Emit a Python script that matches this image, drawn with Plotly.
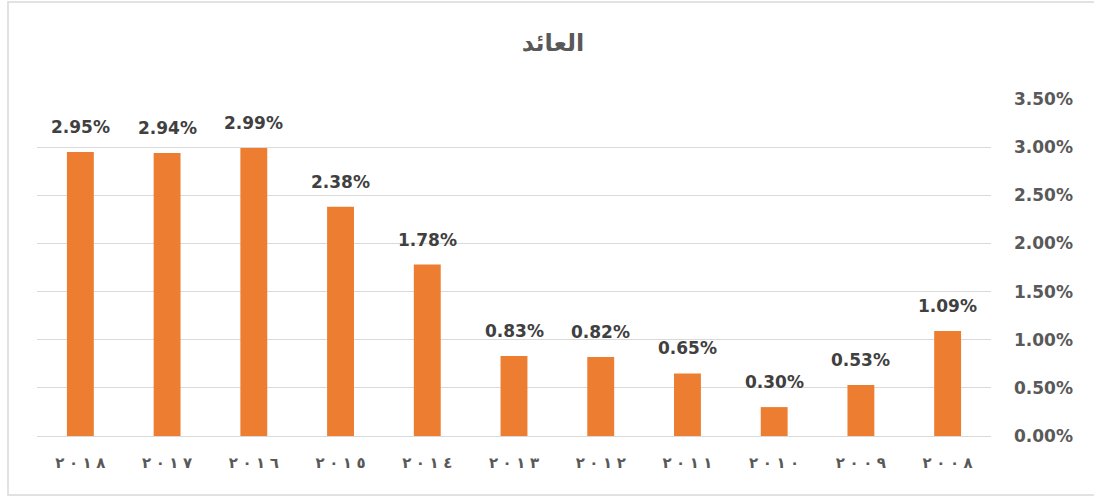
import plotly.graph_objects as go

years = ["2018", "2017", "2016", "2015", "2014", "2013", "2012", "2011", "2010", "2009", "2008"]
year_labels = ["٢٠١٨", "٢٠١٧", "٢٠١٦", "٢٠١٥", "٢٠١٤", "٢٠١٣", "٢٠١٢", "٢٠١١", "٢٠١٠", "٢٠٠٩", "٢٠٠٨"]
returns = [0.0295, 0.0294, 0.0299, 0.0238, 0.0178, 0.0083, 0.0082, 0.0065, 0.0030, 0.0053, 0.0109]
y_ticks = [0, 0.005, 0.01, 0.015, 0.02, 0.025, 0.03, 0.035]
title_text = "العائد"

# spaced-out display of the Arabic-Indic year labels (LRM keeps digit order)
sep = "\u200e\u2009\u200a\u200e"
tick_text = ["<b>\u200e" + sep.join(list(s)) + "</b>" for s in year_labels]

fig = go.Figure()
fig.add_trace(go.Bar(x=year_labels, y=returns, marker=dict(color="#ED7D31", line=dict(width=0)),
                     hoverinfo="skip"))

for lab, v in zip(year_labels, returns):
    fig.add_annotation(x=lab, y=v, text=f"<b>{v*100:.2f}%</b>", showarrow=False,
                       yanchor="bottom", yshift=13,
                       font=dict(family="DejaVu Sans", size=17, color="#404040"))

fig.update_layout(
    width=1094, height=498,
    margin=dict(l=37, r=103, t=99, b=62),
    paper_bgcolor="white", plot_bgcolor="white",
    bargap=0.69,
    showlegend=False,
    title=dict(text="<b>" + title_text + "</b>", xref="container", x=553 / 1094, xanchor="center",
               y=1 - 43 / 498, yanchor="middle",
               font=dict(family="DejaVu Sans", size=24, color="#595959")),
    xaxis=dict(type="category", categoryorder="array", categoryarray=year_labels,
               range=[-0.5, len(year_labels) - 0.5],
               tickvals=year_labels, ticktext=tick_text,
               showgrid=False, showline=False,
               ticks="", tickfont=dict(family="DejaVu Sans", size=15, color="#595959"),
               ticklabelstandoff=16),
    yaxis=dict(side="right", range=[0, 0.035], tickvals=y_ticks,
               ticktext=[f"<b>{t*100:.2f}%</b>" for t in y_ticks],
               showgrid=True, gridcolor="#D9D9D9", gridwidth=1,
               zeroline=True, zerolinecolor="#D9D9D9", zerolinewidth=1,
               showline=False, ticks="", ticklabelstandoff=22,
               tickfont=dict(family="DejaVu Sans", size=17, color="#595959")),
    shapes=[dict(type="rect", xref="paper", yref="paper",
                 x0=(8 - 37) / 954, x1=(1105 - 37) / 954,
                 y0=(436 - 495) / 337, y1=(436 - 2) / 337,
                 line=dict(color="#D9D9D9", width=1.5), fillcolor="rgba(0,0,0,0)", layer="below")],
)

fig.write_html("out.html", config={"displayModeBar": False},
               post_script="document.body.style.margin='0';")
